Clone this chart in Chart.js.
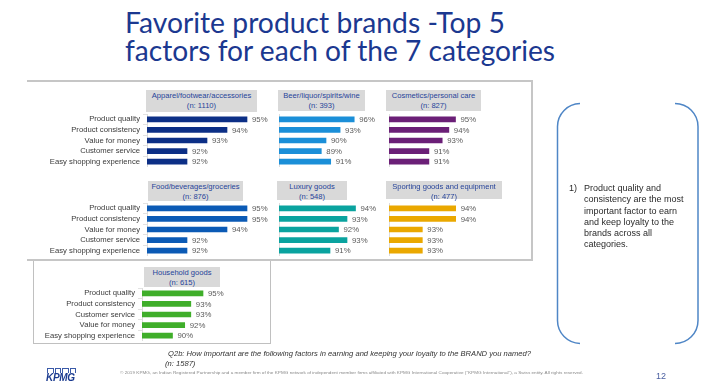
<!DOCTYPE html>
<html><head><meta charset="utf-8">
<script src="https://cdn.jsdelivr.net/npm/chart.js@4.4.1/dist/chart.umd.min.js"></script>
<style>
html,body{margin:0;padding:0}
body{width:708px;height:385px;overflow:hidden;background:#fff;position:relative;font-family:"Liberation Sans",Arial,sans-serif}
.abs{position:absolute}
.title{position:absolute;left:125px;font-family:Lato,"Open Sans",sans-serif;font-size:28px;line-height:28px;color:#1b3890;white-space:nowrap;transform-origin:0 0}
.hdr{position:absolute;background:#d9d9d9;color:#27449a;font-size:7.6px;line-height:10px;text-align:center;white-space:nowrap;padding-top:1px;box-sizing:border-box}
.note{position:absolute;font-size:9px;line-height:11.3px;color:#2a2a2a;white-space:nowrap}
</style></head><body>

<div id="t1" class="title" style="top:8px">Favorite product brands -Top 5</div>
<div id="t2" class="title" style="top:36px">factors for each of the 7 categories</div>

<!-- frames -->
<div class="abs" style="left:27px;top:80px;width:506px;height:2px;background:#c6c6c6"></div>
<div class="abs" style="left:531px;top:80px;width:2px;height:181px;background:#c6c6c6"></div>
<div class="abs" style="left:27px;top:259px;width:506px;height:2px;background:#c6c6c6"></div>
<div class="abs" style="left:33px;top:261px;width:236px;height:82px;border:1.5px solid #c0c0c0;border-top:none"></div>

<div id="panels"></div>

<svg class="abs" style="left:0;top:0" width="708" height="385">
  <path d="M580 103.5 A23 23 0 0 0 557.5 126.5 L557.5 320.5 A23 23 0 0 0 580 343.5" fill="none" stroke="#4f86c6" stroke-width="1.5"/>
  <path d="M675 103.5 A23 23 0 0 1 698 126.5 L698 320.5 A23 23 0 0 1 675 343.5" fill="none" stroke="#4f86c6" stroke-width="1.5"/>
</svg>
<div class="note" style="left:569px;top:183px">1)</div>
<div class="note" style="left:584px;top:183px">Product quality and<br>consistency are the most<br>important factor to earn<br>and keep loyalty to the<br>brands across all<br>categories.</div>

<div class="abs" style="left:168px;top:349px;font-size:7.6px;font-style:italic;color:#333;white-space:nowrap">Q2b: How important are the following factors in earning and keeping your loyalty to the BRAND you named?</div>
<div class="abs" style="left:165px;top:359px;font-size:7.6px;font-style:italic;color:#333;white-space:nowrap">(n: 1587)</div>
<div id="foot" class="abs" style="left:120px;top:370px;font-size:4px;color:#8a8a8a;white-space:nowrap;transform-origin:0 0">© 2019 KPMG, an Indian Registered Partnership and a member firm of the KPMG network of independent member firms affiliated with KPMG International Cooperative ("KPMG International"), a Swiss entity. All rights reserved.</div>
<div class="abs" style="left:656px;top:371px;font-size:9px;color:#4a5fa0">12</div>
<div class="abs" style="left:47px;top:368px;width:29px;height:5px;display:flex;gap:1px">
  <div style="flex:1;border:1px solid #3a5aa8;border-bottom:none"></div><div style="flex:1;border:1px solid #3a5aa8;border-bottom:none"></div><div style="flex:1;border:1px solid #3a5aa8;border-bottom:none"></div><div style="flex:1;border:1px solid #3a5aa8;border-bottom:none"></div>
</div>
<div class="abs" style="left:46px;top:372px;font-size:10px;font-weight:bold;font-style:italic;color:#1a3a8f;letter-spacing:-0.3px">KPMG</div>

<script>
// ---------- DATA ----------
const categories = ['Product quality','Product consistency','Value for money','Customer service','Easy shopping experience'];
const householdCategories = ['Product quality','Product consistency','Customer service','Value for money','Easy shopping experience'];
const panelTitles = ['Apparel/footwear/accessories','Beer/liquor/spirits/wine','Cosmetics/personal care','Food/beverages/groceries','Luxury goods','Sporting goods and equipment','Household goods'];
const panelCounts = ['(n: 1110)','(n: 393)','(n: 827)','(n: 876)','(n: 548)','(n: 477)','(n: 615)'];
const apparel   = [95,94,93,92,92];
const beer      = [96,93,90,89,91];
const cosmetics = [95,94,93,91,91];
const food      = [95,95,94,92,92];
const luxury    = [94,93,92,93,91];
const sporting  = [94,94,93,93,93];
const household = [95,93,93,92,90];

// ---------- LAYOUT / STYLE ----------
const FONT = '"Liberation Sans", Arial, sans-serif';
const PLOT_W = 110;
const panels = [
  {labels:categories, values:apparel,   color:'#0c2f86', showLabels:true,  min:90, max:95.5,   plotLeft:147,   top:114,   hdr:[146,90,111,22]},
  {labels:categories, values:beer,      color:'#1b8fd8', showLabels:false, min:80, max:103.4,  plotLeft:279.3, top:114,   hdr:[278,90,87,21]},
  {labels:categories, values:cosmetics, color:'#6b1f77', showLabels:false, min:85, max:101.54, plotLeft:389.3, top:114,   hdr:[386,90,95,21]},
  {labels:categories, values:food,      color:'#0b5ab5', showLabels:true,  min:90, max:95.5,   plotLeft:147,   top:203.4, hdr:[148,181,95,20]},
  {labels:categories, values:luxury,    color:'#0aa39f', showLabels:false, min:85, max:97.94,  plotLeft:279.3, top:203.4, hdr:[277,181,70,19]},
  {labels:categories, values:sporting,  color:'#eaa800', showLabels:false, min:92, max:95.3,   plotLeft:389.3, top:203.4, hdr:[386,181,116,18]},
  {labels:householdCategories, values:household, color:'#3fae2a', showLabels:true, min:85, max:103.03, plotLeft:142, top:287.75, hdr:[144,267,76,20]}
];

const valueLabels = {
  id:'valueLabels',
  afterDatasetsDraw(chart){
    const ctx = chart.ctx, meta = chart.getDatasetMeta(0), ds = chart.data.datasets[0];
    ctx.save();
    ctx.font = '7.8px ' + FONT;
    ctx.fillStyle = '#5a5a5a';
    ctx.textBaseline = 'middle';
    ctx.textAlign = 'left';
    meta.data.forEach((bar,i)=>{ ctx.fillText(ds.data[i] + '%', bar.x + 5, bar.y + 0.5); });
    ctx.restore();
  }
};

const host = document.getElementById('panels');
panels.forEach((p, idx) => {
  const h = document.createElement('div');
  h.className = 'hdr';
  h.style.left = p.hdr[0]+'px'; h.style.top = p.hdr[1]+'px';
  h.style.width = p.hdr[2]+'px'; h.style.height = p.hdr[3]+'px';
  h.innerHTML = panelTitles[idx] + '<br>' + panelCounts[idx];
  host.appendChild(h);

  const axisW = p.showLabels ? 110 : 2;
  const W = Math.round(axisW + PLOT_W + 30), H = 53;
  const wrap = document.createElement('div');
  wrap.className = 'abs';
  wrap.style.left = (p.plotLeft - axisW) + 'px';
  wrap.style.top = p.top + 'px';
  wrap.style.width = W + 'px'; wrap.style.height = H + 'px';
  const c = document.createElement('canvas');
  c.width = W; c.height = H;
  c.style.width = W + 'px'; c.style.height = H + 'px';
  wrap.appendChild(c);
  host.appendChild(wrap);

  new Chart(c, {
    type:'bar',
    data:{labels:p.labels, datasets:[{data:p.values, backgroundColor:p.color, barThickness:5}]},
    options:{
      indexAxis:'y', responsive:false, animation:false, devicePixelRatio:1,
      layout:{padding:{left:0,right:W - axisW - PLOT_W,top:0,bottom:0}},
      plugins:{legend:{display:false}, tooltip:{enabled:false}},
      scales:{
        x:{type:'linear', min:p.min, max:p.max, display:false},
        y:{display:true,
           grid:{display:true, drawOnChartArea:false, drawTicks:true, tickLength:p.showLabels ? 4 : 0, color:'#e2e2e2'},
           border:{display:true, color:'#dcdcdc', width:1},
           ticks:{display:p.showLabels, autoSkip:false, padding:3, color:'#3a3a3a', font:{family:FONT, size:7.7}},
           afterFit:(s)=>{ s.width = axisW; s.paddingTop = 0; s.paddingBottom = 0; }}
      }
    },
    plugins:[valueLabels]
  });
});

// fit title lines to the measured widths of the reference
function fit(id, w){ const el=document.getElementById(id); const r=el.getBoundingClientRect().width; el.style.transform='scaleX('+(w/r)+')'; }
fit('t1', 380); fit('t2', 430); fit('foot', 463);
</script>
</body></html>
